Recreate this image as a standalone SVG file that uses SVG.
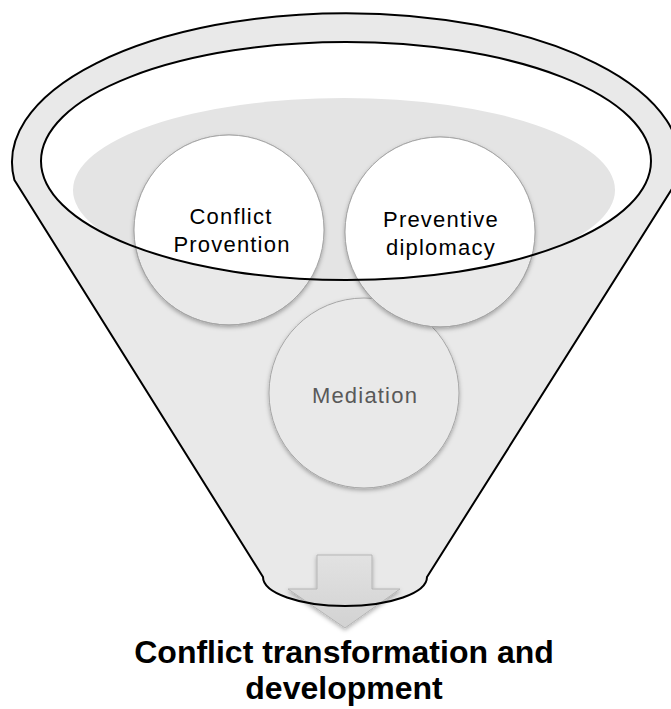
<svg xmlns="http://www.w3.org/2000/svg" width="671" height="709" viewBox="0 0 671 709">
  <style>
    .edge { fill: none; stroke: #000; stroke-width: 2; }
    .circ { stroke: #a6a6a6; stroke-width: 1; }
    .ctext { font-family: "Liberation Sans", Arial, sans-serif; font-size: 22px; letter-spacing: 1.2px; text-anchor: middle; }
    .title { font-family: "Liberation Sans", Arial, sans-serif; font-size: 32px; font-weight: bold; text-anchor: middle; fill: #000; }
  </style>
  <defs>
    <clipPath id="inner">
      <ellipse cx="346" cy="161" rx="305" ry="119"/>
    </clipPath>
    <filter id="sh" x="-20%" y="-20%" width="140%" height="140%">
      <feDropShadow dx="0" dy="2" stdDeviation="2" flood-color="#000" flood-opacity="0.3"/>
    </filter>
    <linearGradient id="ag" x1="0" y1="0" x2="0" y2="1">
      <stop offset="0" stop-color="#e2e2e2"/>
      <stop offset="1" stop-color="#d2d2d2"/>
    </linearGradient>
  </defs>

  <g id="funnel">
    <path id="funnel-body" d="M14.4,180 L263,577 A82,29 0 0 0 427,577 L677.6,180 A334,149 0 1 0 14.4,180 Z" fill="#e9e9e9"/>
    <ellipse cx="346" cy="161" rx="305" ry="119" fill="#ffffff"/>
    <ellipse cx="344" cy="190" rx="271" ry="92" fill="#e4e4e4" clip-path="url(#inner)"/>
  </g>

  <g id="node-mediation">
    <circle cx="364" cy="393" r="95" fill="#e9e9e9" class="circ" filter="url(#sh)"/>
    <text x="365" y="403" class="ctext" fill="#595959">Mediation</text>
  </g>

  <g id="node-conflict-provention">
    <circle cx="229" cy="230" r="95" fill="#e9e9e9" class="circ" filter="url(#sh)"/>
    <circle cx="229" cy="230" r="95" fill="#ffffff" clip-path="url(#inner)"/>
    <circle cx="229" cy="230" r="95" fill="none" class="circ"/>
    <text x="231" y="224" class="ctext" fill="#000">Conflict</text>
    <text x="232" y="252" class="ctext" fill="#000">Provention</text>
  </g>

  <g id="node-preventive-diplomacy">
    <circle cx="440" cy="232" r="95" fill="#e9e9e9" class="circ" filter="url(#sh)"/>
    <circle cx="440" cy="232" r="95" fill="#ffffff" clip-path="url(#inner)"/>
    <circle cx="440" cy="232" r="95" fill="none" class="circ"/>
    <text x="441" y="227" class="ctext" fill="#000">Preventive</text>
    <text x="441" y="255" class="ctext" fill="#000">diplomacy</text>
  </g>

  <g id="connectors">
    <path d="M317,555 L372,555 L372,589 L400,589 L345,628 L288,589 L317,589 Z" fill="url(#ag)" stroke="#b5b5b5" stroke-width="1" filter="url(#sh)"/>
  </g>

  <g id="funnel-outline">
    <path d="M14.4,180 L263,577 A82,29 0 0 0 427,577 L677.6,180 A334,149 0 1 0 14.4,180 Z" class="edge"/>
    <ellipse cx="346" cy="161" rx="305" ry="119" class="edge"/>
  </g>

  <g id="node-result">
    <text x="344" y="663" class="title">Conflict transformation and</text>
    <text x="344" y="699" class="title">development</text>
  </g>
</svg>
